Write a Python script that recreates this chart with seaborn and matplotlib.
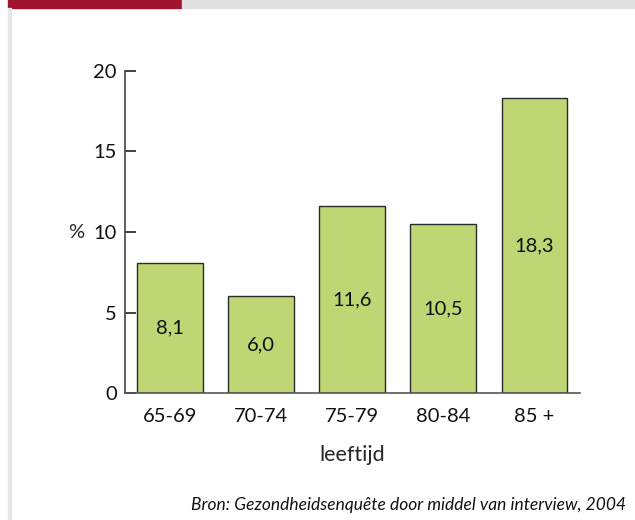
import matplotlib
matplotlib.use("Agg")
import matplotlib.pyplot as plt
import matplotlib.patches as mpatches
import seaborn as sns
import pandas as pd

# Age groups and percentages
age_groups = ["65-69", "70-74", "75-79", "80-84", "85 +"]
percentages = [8.1, 6.0, 11.6, 10.5, 18.3]
value_labels = ["8,1", "6,0", "11,6", "10,5", "18,3"]
y_ticks = [0, 5, 10, 15, 20]

sns.set_theme(style="white")
plt.rcParams["font.family"] = ["Lato", "DejaVu Sans"]
plt.rcParams["text.color"] = "#111111"
plt.rcParams["xtick.color"] = "#111111"
plt.rcParams["ytick.color"] = "#111111"

df = pd.DataFrame({"leeftijd": age_groups, "pct": percentages})

fig = plt.figure(figsize=(6.35, 5.2), dpi=100)
ax = fig.add_axes([125 / 635, 1 - 393 / 520, 455 / 635, (393 - 71) / 520])

sns.barplot(data=df, x="leeftijd", y="pct", ax=ax, color="#BED673",
            saturation=1, width=0.72, edgecolor="#2b2b2b", linewidth=1.0)

for i, (v, lab) in enumerate(zip(percentages, value_labels)):
    ax.text(i, v / 2, lab, ha="center", va="center", fontsize=14.5, color="#111111")

ax.set_xlim(-0.49, 4.5)
ax.set_ylim(0, 20)
ax.set_yticks(y_ticks)
ax.set_yticklabels([str(t) for t in y_ticks])
ax.tick_params(axis="y", direction="in", length=8, width=1.3, color="#333333",
               labelsize=14.5, pad=6, left=True)
ax.tick_params(axis="x", length=0, labelsize=14.5, pad=11)

for side in ("top", "right"):
    ax.spines[side].set_visible(False)
ax.spines["left"].set_color("#444444")
ax.spines["bottom"].set_color("#555555")
ax.spines["left"].set_linewidth(1.2)
ax.spines["bottom"].set_linewidth(1.2)

ax.set_xlabel("leeftijd", fontsize=15.5, labelpad=14)
ax.set_ylabel("%", fontsize=14.5, rotation=0, ha="center", va="center")
ax.yaxis.set_label_coords(-0.107, 0.5)

# Header band and left rule
fig.patches.append(mpatches.Rectangle((8 / 635, 1 - 8 / 520), (182 - 8) / 635, 8 / 520,
                                      transform=fig.transFigure, color="#A0152B", zorder=0))
fig.patches.append(mpatches.Rectangle((182 / 635, 1 - 8 / 520), (635 - 182) / 635, 8 / 520,
                                      transform=fig.transFigure, color="#E0E0E0", zorder=0))
fig.patches.append(mpatches.Rectangle((8 / 635, 0), 3 / 635, 1 - 8 / 520,
                                      transform=fig.transFigure, color="#E6E6E6", zorder=0))

fig.text(626 / 635, 1 - 505 / 520, "Bron: Gezondheidsenquête door middel van interview, 2004",
         ha="right", va="center", fontsize=12.5, style="italic", color="#111111")

fig.savefig("out.png", dpi=100)
